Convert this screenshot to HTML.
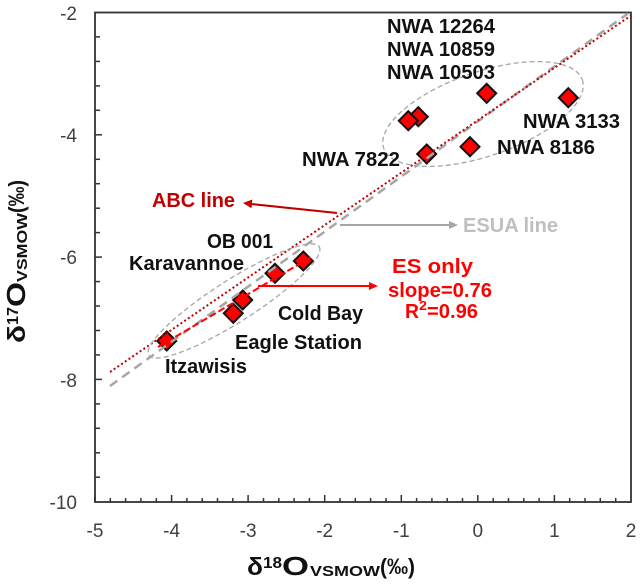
<!DOCTYPE html>
<html>
<head>
<meta charset="utf-8">
<style>
  html,body{margin:0;padding:0;background:#fff;}
  svg{display:block;}
  .lbl{font-family:"Liberation Sans",Arial,sans-serif;font-weight:bold;font-size:20px;fill:#111;}
  .tick{font-family:"Liberation Sans",Arial,sans-serif;font-size:19px;fill:#404040;}
  .ttl{font-family:"Liberation Sans",Arial,sans-serif;font-weight:bold;fill:#111;}
</style>
</head>
<body>
<svg width="640" height="585" viewBox="0 0 640 585" xmlns="http://www.w3.org/2000/svg">
  <rect x="0" y="0" width="640" height="585" fill="#fff"/>

  <!-- frame -->
  <rect x="95" y="12.5" width="536" height="489.5" fill="none" stroke="#333" stroke-width="1.8"/>

  <!-- x ticks -->
  <g stroke="#333" stroke-width="1.5">
    <line x1="95" y1="502" x2="95" y2="495"/>
    <line x1="110.3" y1="502" x2="110.3" y2="498"/>
    <line x1="125.6" y1="502" x2="125.6" y2="498"/>
    <line x1="140.9" y1="502" x2="140.9" y2="498"/>
    <line x1="156.3" y1="502" x2="156.3" y2="498"/>
    <line x1="171.6" y1="502" x2="171.6" y2="495"/>
    <line x1="186.9" y1="502" x2="186.9" y2="498"/>
    <line x1="202.2" y1="502" x2="202.2" y2="498"/>
    <line x1="217.5" y1="502" x2="217.5" y2="498"/>
    <line x1="232.8" y1="502" x2="232.8" y2="498"/>
    <line x1="248.1" y1="502" x2="248.1" y2="495"/>
    <line x1="263.5" y1="502" x2="263.5" y2="498"/>
    <line x1="278.8" y1="502" x2="278.8" y2="498"/>
    <line x1="294.1" y1="502" x2="294.1" y2="498"/>
    <line x1="309.4" y1="502" x2="309.4" y2="498"/>
    <line x1="324.7" y1="502" x2="324.7" y2="495"/>
    <line x1="340" y1="502" x2="340" y2="498"/>
    <line x1="355.3" y1="502" x2="355.3" y2="498"/>
    <line x1="370.6" y1="502" x2="370.6" y2="498"/>
    <line x1="386" y1="502" x2="386" y2="498"/>
    <line x1="401.3" y1="502" x2="401.3" y2="495"/>
    <line x1="416.6" y1="502" x2="416.6" y2="498"/>
    <line x1="431.9" y1="502" x2="431.9" y2="498"/>
    <line x1="447.2" y1="502" x2="447.2" y2="498"/>
    <line x1="462.5" y1="502" x2="462.5" y2="498"/>
    <line x1="477.8" y1="502" x2="477.8" y2="495"/>
    <line x1="493.2" y1="502" x2="493.2" y2="498"/>
    <line x1="508.5" y1="502" x2="508.5" y2="498"/>
    <line x1="523.8" y1="502" x2="523.8" y2="498"/>
    <line x1="539.1" y1="502" x2="539.1" y2="498"/>
    <line x1="554.4" y1="502" x2="554.4" y2="495"/>
    <line x1="569.7" y1="502" x2="569.7" y2="498"/>
    <line x1="585" y1="502" x2="585" y2="498"/>
    <line x1="600.3" y1="502" x2="600.3" y2="498"/>
    <line x1="615.7" y1="502" x2="615.7" y2="498"/>
  </g>
  <!-- y ticks -->
  <g stroke="#333" stroke-width="1.5">
    <line x1="95" y1="36.9" x2="100" y2="36.9"/>
    <line x1="95" y1="61.4" x2="100" y2="61.4"/>
    <line x1="95" y1="85.9" x2="100" y2="85.9"/>
    <line x1="95" y1="110.3" x2="100" y2="110.3"/>
    <line x1="95" y1="134.8" x2="102" y2="134.8"/>
    <line x1="95" y1="159.3" x2="100" y2="159.3"/>
    <line x1="95" y1="183.7" x2="100" y2="183.7"/>
    <line x1="95" y1="208.2" x2="100" y2="208.2"/>
    <line x1="95" y1="232.6" x2="100" y2="232.6"/>
    <line x1="95" y1="257.1" x2="102" y2="257.1"/>
    <line x1="95" y1="281.6" x2="100" y2="281.6"/>
    <line x1="95" y1="306" x2="100" y2="306"/>
    <line x1="95" y1="330.5" x2="100" y2="330.5"/>
    <line x1="95" y1="354.9" x2="100" y2="354.9"/>
    <line x1="95" y1="379.4" x2="102" y2="379.4"/>
    <line x1="95" y1="403.9" x2="100" y2="403.9"/>
    <line x1="95" y1="428.3" x2="100" y2="428.3"/>
    <line x1="95" y1="452.8" x2="100" y2="452.8"/>
    <line x1="95" y1="477.2" x2="100" y2="477.2"/>
  </g>

  <!-- tick labels -->
  <g class="tick" text-anchor="end">
    <text x="77" y="20">-2</text>
    <text x="77" y="142">-4</text>
    <text x="77" y="264">-6</text>
    <text x="77" y="387">-8</text>
    <text x="77" y="509">-10</text>
  </g>
  <g class="tick" text-anchor="middle">
    <text x="95" y="537">-5</text>
    <text x="171.6" y="537">-4</text>
    <text x="248.1" y="537">-3</text>
    <text x="324.7" y="537">-2</text>
    <text x="401.3" y="537">-1</text>
    <text x="477.8" y="537">0</text>
    <text x="554.4" y="537">1</text>
    <text x="631" y="537">2</text>
  </g>

  <!-- x axis title -->
  <g class="ttl" transform="translate(247,575)">
    <text x="0" y="0" font-size="25" textLength="16" lengthAdjust="spacingAndGlyphs">δ</text>
    <text x="16" y="-7" font-size="16" textLength="19" lengthAdjust="spacingAndGlyphs">18</text>
    <text x="35" y="0" font-size="26" textLength="27" lengthAdjust="spacingAndGlyphs">O</text>
    <text x="63" y="1" font-size="15" textLength="70" lengthAdjust="spacingAndGlyphs">VSMOW</text>
    <text x="133" y="-1" font-size="22" textLength="35" lengthAdjust="spacingAndGlyphs">(‰)</text>
  </g>

  <!-- y axis title -->
  <g class="ttl" transform="translate(25,343) rotate(-90)">
    <text x="0" y="0" font-size="25" textLength="18" lengthAdjust="spacingAndGlyphs">δ</text>
    <text x="18" y="-7" font-size="16" textLength="18" lengthAdjust="spacingAndGlyphs">17</text>
    <text x="36" y="0" font-size="26" textLength="25" lengthAdjust="spacingAndGlyphs">O</text>
    <text x="61" y="2" font-size="15" textLength="69" lengthAdjust="spacingAndGlyphs">VSMOW</text>
    <text x="130" y="-1" font-size="22" textLength="33" lengthAdjust="spacingAndGlyphs">(‰)</text>
  </g>

  <!-- markers -->
  <g fill="#ff0000" stroke="#111" stroke-width="2" stroke-linejoin="miter">
    <path d="M166.7 331.5 L176.2 341 L166.7 350.5 L157.2 341 Z"/>
    <path d="M242.7 290.5 L252.2 300 L242.7 309.5 L233.2 300 Z"/>
    <path d="M233.3 303.8 L242.8 313.3 L233.3 322.8 L223.8 313.3 Z"/>
    <path d="M275 263.8 L284.5 273.3 L275 282.8 L265.5 273.3 Z"/>
    <path d="M303.3 251.5 L312.8 261 L303.3 270.5 L293.8 261 Z"/>
    <path d="M486.7 83.8 L496.2 93.3 L486.7 102.8 L477.2 93.3 Z"/>
    <path d="M568.3 88.2 L577.8 97.7 L568.3 107.2 L558.8 97.7 Z"/>
    <path d="M418.3 107.2 L427.8 116.7 L418.3 126.2 L408.8 116.7 Z"/>
    <path d="M408.3 111.2 L417.8 120.7 L408.3 130.2 L398.8 120.7 Z"/>
    <path d="M470 137.2 L479.5 146.7 L470 156.2 L460.5 146.7 Z"/>
    <path d="M426.7 144.5 L436.2 154 L426.7 163.5 L417.2 154 Z"/>
  </g>

  <!-- ESUA line (grey dashed) -->
  <line x1="110" y1="386" x2="628" y2="13.5" stroke="#a6a6a6" stroke-width="2.5" stroke-dasharray="9,6"/>
  <!-- ABC line (dark red dotted) -->
  <line x1="110" y1="372" x2="631" y2="15.5" stroke="#c00000" stroke-width="2" stroke-dasharray="2,2.5"/>
  <!-- ES only line (red dashed) -->
  <line x1="158" y1="347" x2="313" y2="256" stroke="#ff0000" stroke-width="2" stroke-dasharray="7,3"/>

  <!-- ellipses -->
  <ellipse cx="483" cy="114" rx="105" ry="42" transform="rotate(-19 483 114)" fill="none" stroke="#a6a6a6" stroke-width="1.3" stroke-dasharray="5,3"/>
  <ellipse cx="234" cy="301" rx="101" ry="21" transform="rotate(-32.5 234 301)" fill="none" stroke="#a6a6a6" stroke-width="1.3" stroke-dasharray="5,3"/>

  <!-- arrows -->
  <line x1="337" y1="213" x2="251" y2="204" stroke="#c00000" stroke-width="2"/>
  <polygon points="243,203 252.3,199.5 251.5,208.3" fill="#c00000"/>
  <line x1="340" y1="225" x2="450" y2="225" stroke="#a6a6a6" stroke-width="2"/>
  <polygon points="458,225 449,221 449,229" fill="#a6a6a6"/>
  <line x1="258" y1="286" x2="370" y2="286" stroke="#ff0000" stroke-width="2"/>
  <polygon points="378,286 369,282 369,290" fill="#ff0000"/>

  <!-- labels -->
  <g class="lbl">
    <text x="387" y="33" textLength="108" lengthAdjust="spacingAndGlyphs">NWA 12264</text>
    <text x="387" y="56" textLength="108" lengthAdjust="spacingAndGlyphs">NWA 10859</text>
    <text x="387" y="79" textLength="108" lengthAdjust="spacingAndGlyphs">NWA 10503</text>
    <text x="523" y="128" textLength="97" lengthAdjust="spacingAndGlyphs">NWA 3133</text>
    <text x="497" y="154" textLength="98" lengthAdjust="spacingAndGlyphs">NWA 8186</text>
    <text x="302" y="166" textLength="98" lengthAdjust="spacingAndGlyphs">NWA 7822</text>
    <text x="207" y="248" textLength="66" lengthAdjust="spacingAndGlyphs">OB 001</text>
    <text x="129" y="270" textLength="115" lengthAdjust="spacingAndGlyphs">Karavannoe</text>
    <text x="278" y="320" textLength="85" lengthAdjust="spacingAndGlyphs">Cold Bay</text>
    <text x="235" y="349" textLength="127" lengthAdjust="spacingAndGlyphs">Eagle Station</text>
    <text x="165" y="373" textLength="82" lengthAdjust="spacingAndGlyphs">Itzawisis</text>
    <text x="152" y="207" textLength="83" lengthAdjust="spacingAndGlyphs" fill="#c00000">ABC line</text>
    <text x="463" y="232" textLength="95" lengthAdjust="spacingAndGlyphs" fill="#bfbfbf">ESUA line</text>
    <text x="392" y="273" textLength="81" lengthAdjust="spacingAndGlyphs" fill="#ff0000">ES only</text>
    <text x="388" y="297" textLength="104" lengthAdjust="spacingAndGlyphs" fill="#ff0000">slope=0.76</text>
    <text x="405" y="318" textLength="14" lengthAdjust="spacingAndGlyphs" fill="#ff0000">R</text>
    <text x="419" y="310" font-size="13" textLength="8" lengthAdjust="spacingAndGlyphs" fill="#ff0000">2</text>
    <text x="427" y="318" textLength="51" lengthAdjust="spacingAndGlyphs" fill="#ff0000">=0.96</text>
  </g>
</svg>
</body>
</html>
